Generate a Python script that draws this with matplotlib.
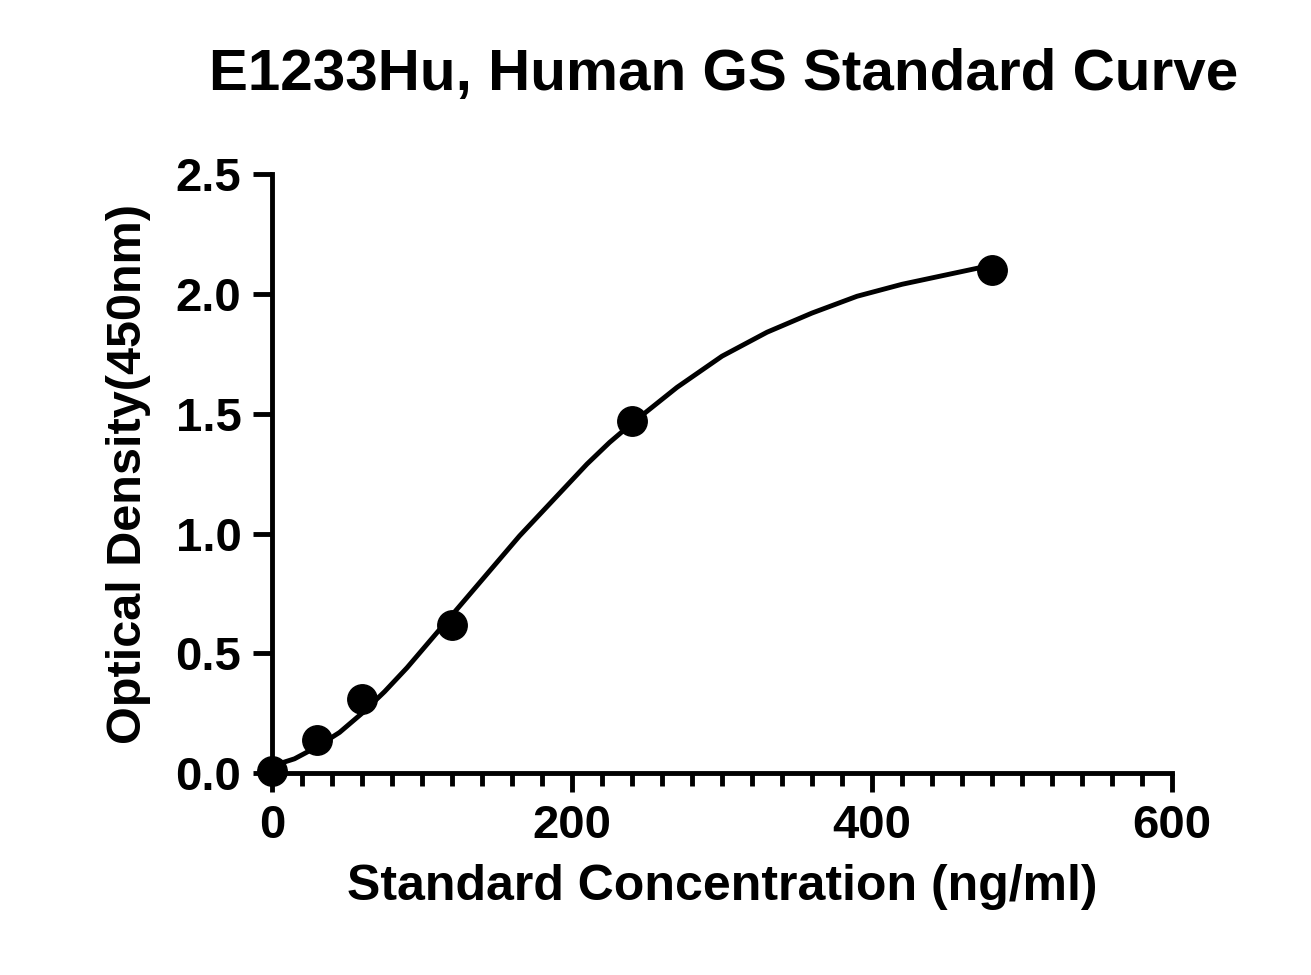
import numpy as np
import matplotlib.pyplot as plt
from matplotlib.ticker import MultipleLocator

# standard points
conc = [0, 30, 60, 120, 240, 480]
od = [0.01, 0.14, 0.31, 0.62, 1.47, 2.10]

# fitted curve
curve_x = [0, 15, 30, 45, 60, 75, 90, 105, 120, 135, 150, 165, 180, 195, 210, 225, 240, 270, 300, 330, 360, 390, 420, 450, 480]
curve_y = [0.03, 0.06, 0.11, 0.17, 0.25, 0.34, 0.44, 0.55, 0.66, 0.77, 0.88, 0.99, 1.09, 1.19, 1.29, 1.38, 1.46, 1.61, 1.74, 1.84, 1.92, 1.99, 2.04, 2.08, 2.12]

plt.rcParams['font.family'] = ['Liberation Sans', 'DejaVu Sans']
plt.rcParams['font.weight'] = 'bold'

fig = plt.figure(figsize=(13.11, 9.75), dpi=100)
ax = fig.add_axes([0.2075, 0.207, 0.6865, 0.6145])

ax.plot(curve_x, curve_y, color='black', linewidth=3.5, solid_joinstyle='round')
ax.scatter(conc, od, s=450, color='black', zorder=3, clip_on=False)

ax.set_xlim(0, 600)
ax.set_ylim(0, 2.5)
ax.set_xticks([0, 200, 400, 600])
ax.set_yticks([0, 0.5, 1.0, 1.5, 2.0, 2.5])
ax.set_yticklabels(['0.0', '0.5', '1.0', '1.5', '2.0', '2.5'])
ax.xaxis.set_minor_locator(MultipleLocator(20))

for s in ['top', 'right']:
    ax.spines[s].set_visible(False)
for s in ['left', 'bottom']:
    ax.spines[s].set_linewidth(3.5)

ax.tick_params(axis='both', which='major', length=14, width=3.5, labelsize=34, pad=8)
ax.tick_params(axis='x', which='minor', length=9, width=3.5)

ax.set_xlabel('Standard Concentration (ng/ml)', fontsize=36, fontweight='bold', labelpad=12)
ax.set_ylabel('Optical Density(450nm)', fontsize=35, fontweight='bold', labelpad=18)
fig.text(0.552, 0.923, 'E1233Hu, Human GS Standard Curve', fontsize=42,
         fontweight='bold', ha='center', va='center')

plt.savefig('out.png', dpi=100)
